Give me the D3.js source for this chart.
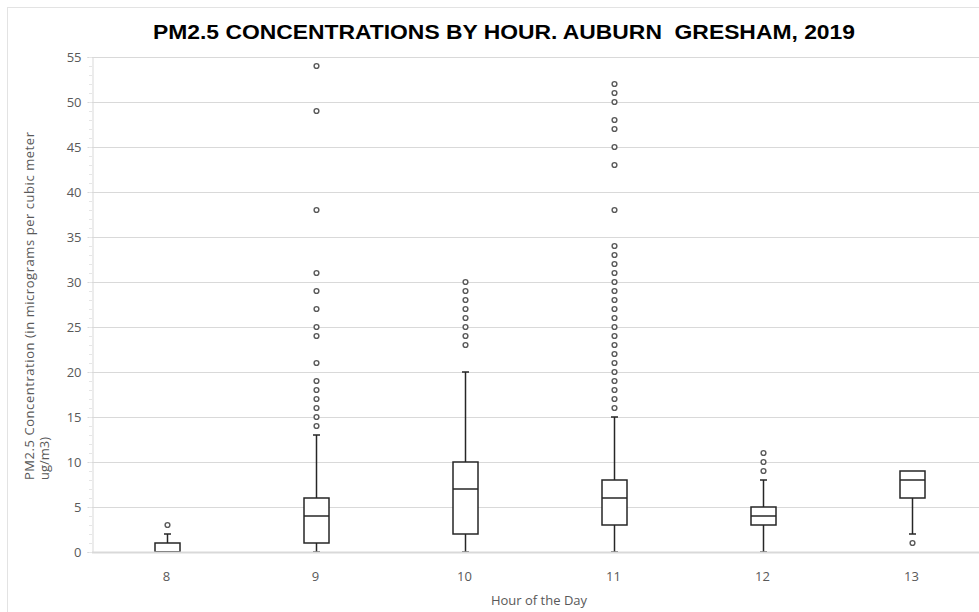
<!DOCTYPE html>
<html>
<head>
<meta charset="utf-8">
<script src="https://cdn.jsdelivr.net/npm/d3@7"></script>
<style>
  body { margin: 0; background: #fff; }
  text { font-family: "Open Sans", "DejaVu Sans", sans-serif; }
</style>
</head>
<body>
<div id="chart"></div>
<script>
// values
var hours = ["8", "9", "10", "11", "12", "13"];
var q1 = [0, 1, 2, 3, 3, 6];
var median = [0, 4, 7, 6, 4, 8];
var q3 = [1, 6, 10, 8, 5, 9];
var whiskerLow = [0, 0, 0, 0, 0, 2];
var whiskerHigh = [2, 13, 20, 15, 8, 9];
var outliers = [
  [3],
  [14, 15, 16, 17, 18, 19, 21, 24, 25, 27, 29, 31, 38, 49, 54],
  [23, 24, 25, 26, 27, 28, 29, 30],
  [16, 17, 18, 19, 20, 21, 22, 23, 24, 25, 26, 27, 28, 29, 30, 31, 32, 33, 34, 38, 43, 45, 47, 48, 50, 51, 52],
  [9, 10, 11],
  [1]
];
var yTicks = [0, 5, 10, 15, 20, 25, 30, 35, 40, 45, 50, 55];

function drawChart() {
  var width = 979, height = 612;
  var plotLeft = 92, plotRight = 986, plotTop = 57, plotBottom = 552;

  var svg = d3.select("#chart").append("svg")
    .attr("width", width)
    .attr("height", height);

  // chart frame
  svg.append("rect")
    .attr("x", 7.5).attr("y", 7.5)
    .attr("width", 1000).attr("height", 1000)
    .attr("fill", "none")
    .attr("stroke", "#e3e3e3");

  var x = d3.scaleBand().domain(hours).range([plotLeft, plotRight]);
  var y = d3.scaleLinear().domain([0, 55]).range([plotBottom, plotTop]);

  // gridlines
  svg.append("g")
    .selectAll("line")
    .data(yTicks)
    .enter().append("line")
    .attr("x1", plotLeft).attr("x2", plotRight)
    .attr("y1", function(d){ return Math.round(y(d)) + 0.5; })
    .attr("y2", function(d){ return Math.round(y(d)) + 0.5; })
    .style("stroke", "#d9d9d9");

  // y axis with minor ticks
  var yAxis = d3.axisLeft(y).tickValues(yTicks).tickSize(5).tickPadding(6);
  var ga = svg.append("g")
    .attr("transform", "translate(" + (plotLeft + 0.5) + ",0)")
    .call(yAxis);
  ga.select(".domain").attr("stroke", "#d9d9d9");
  ga.selectAll(".tick line").attr("stroke", "#d9d9d9");
  ga.selectAll(".tick text")
    .attr("fill", "#595959")
    .style("font-size", "13px")
    .style("font-family", "Open Sans, sans-serif");

  svg.append("g")
    .selectAll("line")
    .data(d3.range(0, 56))
    .enter().append("line")
    .attr("x1", plotLeft - 3).attr("x2", plotLeft)
    .attr("y1", function(d){ return Math.round(y(d)) + 0.5; })
    .attr("y2", function(d){ return Math.round(y(d)) + 0.5; })
    .style("stroke", "#e6e6e6");

  // x axis labels
  svg.append("g")
    .selectAll("text")
    .data(hours)
    .enter().append("text")
    .attr("x", function(d){ return x(d) + x.bandwidth() / 2; })
    .attr("y", 581)
    .attr("text-anchor", "middle")
    .attr("fill", "#595959")
    .style("font-size", "13px")
    .text(function(d){ return d; });

  // boxes
  var boxW = 25, capW = 7;
  var boxes = svg.append("g").attr("class", "boxes");
  hours.forEach(function(h, i){
    var cx = Math.round(x(h) + x.bandwidth() / 2) + 0.5;
    var g = boxes.append("g")
      .style("stroke", "#262626")
      .style("stroke-width", 1.5)
      .style("fill", "none");

    // whiskers
    if (whiskerHigh[i] > q3[i]) {
      g.append("line").attr("x1", cx).attr("x2", cx)
        .attr("y1", y(q3[i])).attr("y2", y(whiskerHigh[i]));
      g.append("line").attr("x1", cx - capW / 2).attr("x2", cx + capW / 2)
        .attr("y1", y(whiskerHigh[i])).attr("y2", y(whiskerHigh[i]));
    }
    if (whiskerLow[i] < q1[i]) {
      g.append("line").attr("x1", cx).attr("x2", cx)
        .attr("y1", y(q1[i])).attr("y2", y(whiskerLow[i]));
      g.append("line").attr("x1", cx - capW / 2).attr("x2", cx + capW / 2)
        .attr("y1", y(whiskerLow[i])).attr("y2", y(whiskerLow[i]));
    }

    g.append("rect")
      .attr("x", cx - boxW / 2)
      .attr("y", y(q3[i]))
      .attr("width", boxW)
      .attr("height", y(q1[i]) - y(q3[i]))
      .style("fill", "#fff");
    g.append("line")
      .attr("x1", cx - boxW / 2).attr("x2", cx + boxW / 2)
      .attr("y1", y(median[i])).attr("y2", y(median[i]));

    g.selectAll("circle")
      .data(outliers[i])
      .enter().append("circle")
      .attr("cx", cx)
      .attr("cy", function(d){ return y(d); })
      .attr("r", 2.4)
      .style("stroke", "#595959")
      .style("stroke-width", 1.4)
      .style("fill", "#fff");
  });

  // baseline drawn over the boxes, as in the original
  svg.append("line")
    .attr("x1", plotLeft).attr("x2", plotRight)
    .attr("y1", Math.round(y(0)) + 0.5).attr("y2", Math.round(y(0)) + 0.5)
    .style("stroke", "#d9d9d9")
    .style("stroke-width", 2);

  // title
  svg.append("text")
    .attr("x", 504)
    .attr("y", 39)
    .attr("text-anchor", "middle")
    .attr("textLength", 702)
    .attr("lengthAdjust", "spacingAndGlyphs")
    .style("font-family", "'Liberation Sans Narrow', 'Liberation Sans', Arial, sans-serif")
    .style("font-weight", "bold")
    .style("font-size", "21px")
    .style("white-space", "pre")
    .attr("fill", "#000")
    .text("PM2.5 CONCENTRATIONS BY HOUR. AUBURN  GRESHAM, 2019");

  // axis titles
  var yt = svg.append("text")
    .attr("transform", "translate(34,480) rotate(-90)")
    .attr("fill", "#595959")
    .style("font-size", "13px");
  yt.append("tspan").attr("x", 0).attr("y", 0)
    .attr("textLength", 348)
    .attr("lengthAdjust", "spacing")
    .text("PM2.5 Concentration (in micrograms per cubic meter");
  yt.append("tspan").attr("x", 0).attr("y", 15)
    .text("ug/m3)");

  svg.append("text")
    .attr("x", 539)
    .attr("y", 605)
    .attr("text-anchor", "middle")
    .attr("fill", "#595959")
    .style("font-size", "13px")
    .text("Hour of the Day");
}

drawChart();
</script>
</body>
</html>
